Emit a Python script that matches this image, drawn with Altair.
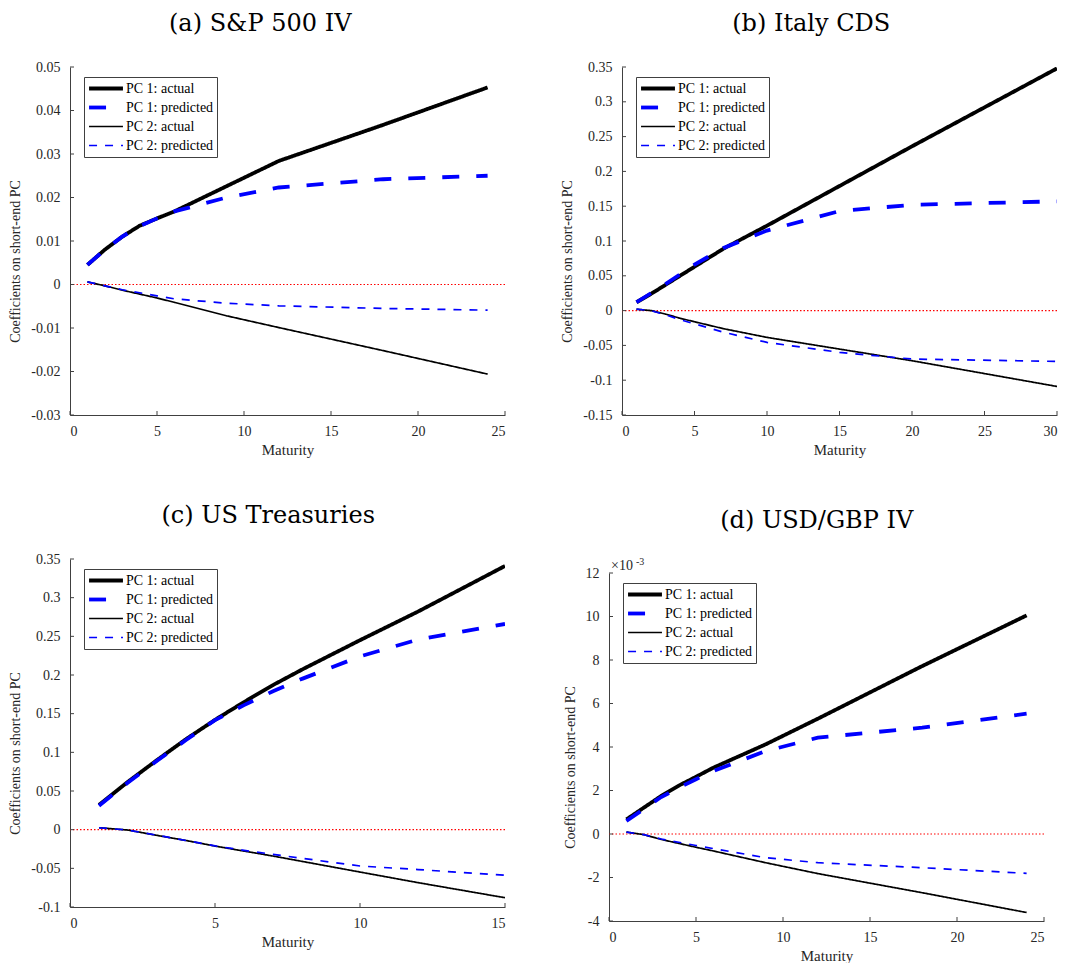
import altair as alt
import pandas as pd

FONT = "Liberation Serif"
TITLE_FONT = "DejaVu Serif"
SERIES = ["PC 1: actual", "PC 1: predicted", "PC 2: actual", "PC 2: predicted"]
COLORS = ["#000000", "#0000ff", "#000000", "#0000ff"]
WIDTHS = [3.8, 3.8, 1.7, 1.7]
DASHES = [[1, 0], [17, 17], [1, 0], [8, 8]]

# (a) S&P 500 IV
a_mat = [1, 2, 3, 4, 5, 6, 9, 12, 18, 24]
a_pc1_act = [0.0045, 0.0080, 0.0110, 0.0135, 0.0152, 0.0168, 0.0226, 0.0284, 0.0367, 0.0453]
a_pc1_pred = [0.0045, 0.0080, 0.0110, 0.0134, 0.0152, 0.0168, 0.0200, 0.0223, 0.0242, 0.0250]
a_pc2_act = [0.0006, -0.0003, -0.0013, -0.0022, -0.0031, -0.0041, -0.0072, -0.0099, -0.0152, -0.0206]
a_pc2_pred = [0.0006, -0.0003, -0.0012, -0.0019, -0.0026, -0.0033, -0.0043, -0.0049, -0.0055, -0.0059]
a_xticks = [0, 5, 10, 15, 20, 25]
a_yticks = [-0.03, -0.02, -0.01, 0, 0.01, 0.02, 0.03, 0.04, 0.05]

# (b) Italy CDS
b_mat = [1, 2, 3, 4, 5, 7, 10, 15, 20, 30]
b_pc1_act = [0.012, 0.024, 0.037, 0.050, 0.063, 0.089, 0.122, 0.179, 0.236, 0.348]
b_pc1_pred = [0.012, 0.025, 0.038, 0.052, 0.066, 0.090, 0.115, 0.143, 0.152, 0.157]
b_pc2_act = [0.002, 0.000, -0.005, -0.011, -0.016, -0.026, -0.0385, -0.0553, -0.072, -0.109]
b_pc2_pred = [0.002, 0.000, -0.006, -0.013, -0.019, -0.031, -0.0457, -0.060, -0.0696, -0.073]
b_xticks = [0, 5, 10, 15, 20, 25, 30]
b_yticks = [-0.15, -0.1, -0.05, 0, 0.05, 0.1, 0.15, 0.2, 0.25, 0.3, 0.35]

# (c) US Treasuries
c_mat = [1, 2, 3, 4, 5, 6, 7, 8, 10, 12, 15]
c_pc1_act = [0.032, 0.062, 0.090, 0.117, 0.142, 0.165, 0.187, 0.207, 0.245, 0.282, 0.341]
c_pc1_pred = [0.031, 0.061, 0.089, 0.116, 0.1416, 0.161, 0.179, 0.195, 0.224, 0.2458, 0.266]
c_pc2_act = [0.0025, -0.0005, -0.0074, -0.014, -0.0212, -0.0277, -0.0341, -0.041, -0.0548, -0.0685, -0.088]
c_pc2_pred = [0.0025, -0.0005, -0.0072, -0.014, -0.021, -0.0267, -0.032, -0.037, -0.047, -0.0516, -0.059]
c_xticks = [0, 5, 10, 15]
c_yticks = [-0.1, -0.05, 0, 0.05, 0.1, 0.15, 0.2, 0.25, 0.3, 0.35]

# (d) USD/GBP IV  (values in units of 10^-3)
d_mat = [1, 2, 3, 4, 5, 6, 9, 12, 18, 24]
d_pc1_act = [0.67, 1.21, 1.75, 2.22, 2.63, 3.05, 4.12, 5.30, 7.72, 10.05]
d_pc1_pred = [0.60, 1.15, 1.70, 2.12, 2.52, 2.90, 3.81, 4.43, 4.89, 5.53]
d_pc2_act = [0.09, -0.03, -0.25, -0.43, -0.61, -0.78, -1.32, -1.82, -2.70, -3.61]
d_pc2_pred = [0.09, -0.03, -0.23, -0.38, -0.53, -0.67, -1.09, -1.32, -1.55, -1.81]
d_xticks = [0, 5, 10, 15, 20, 25]
d_yticks = [-4, -2, 0, 2, 4, 6, 8, 10, 12]

W = 435
H = 348
AXIS_COLOR = "#404040"
LABEL_COLOR = "#262626"


def panel(title, mat, series_vals, xticks, yticks, title_dx=0, exponent=False):
    rows = []
    for s, vals in zip(SERIES, series_vals):
        for m, v in zip(mat, vals):
            rows.append({"Maturity": m, "value": v, "series": s})
    df = pd.DataFrame(rows)

    top = 14 if exponent else 0
    h = H + top

    leg = alt.Legend(
        title=None, orient="none", legendX=14, legendY=10 + top,
        symbolType="stroke", symbolSize=1150, labelFont=FONT,
        labelFontSize=14, labelColor="black", strokeColor=AXIS_COLOR,
        fillColor="white", padding=3, rowPadding=2, clipHeight=17,
        labelOffset=1,
    )
    xs = alt.Scale(domain=[xticks[0], xticks[-1]], nice=False, zero=False)
    if exponent:
        ys = alt.Scale(domain=[yticks[0], yticks[-1]], nice=False, zero=False,
                       range=[h, top])
    else:
        ys = alt.Scale(domain=[yticks[0], yticks[-1]], nice=False, zero=False)
    xaxis = alt.Axis(values=xticks, title="Maturity",
                     labelExpr="'' + datum.value", ticks=False,
                     tickSize=0, grid=False, labelPadding=9, titlePadding=4)
    yaxis = alt.Axis(values=yticks, title="Coefficients on short-end PC",
                     labelExpr="'' + datum.value", ticks=False,
                     tickSize=0, grid=False, labelPadding=10, titlePadding=8,
                     titleFontSize=14, titleY=top + H / 2 + 20)

    def X():
        return alt.X("Maturity:Q", scale=xs, axis=xaxis)

    def Y():
        return alt.Y("value:Q", scale=ys, axis=yaxis)

    lines = alt.Chart(df).mark_line(clip=True, strokeCap="butt").encode(
        x=X(), y=Y(),
        color=alt.Color("series:N", scale=alt.Scale(domain=SERIES, range=COLORS), legend=leg),
        strokeDash=alt.StrokeDash("series:N", scale=alt.Scale(domain=SERIES, range=DASHES), legend=leg),
        strokeWidth=alt.StrokeWidth("series:N", scale=alt.Scale(type="ordinal", domain=SERIES, range=WIDTHS), legend=leg),
        order=alt.Order("Maturity:Q"),
    )

    zero = alt.Chart(pd.DataFrame({"value": [0]})).mark_rule(
        color="#ff0000", strokeDash=[1.5, 2], strokeWidth=1.2
    ).encode(y=Y())

    xt = alt.Chart(pd.DataFrame({"Maturity": xticks})).mark_rule(
        color=AXIS_COLOR, strokeWidth=1
    ).encode(x=X(), y=alt.value(h), y2=alt.value(h - 4))

    yt = alt.Chart(pd.DataFrame({"value": yticks})).mark_rule(
        color=AXIS_COLOR, strokeWidth=1
    ).encode(y=Y(), x=alt.value(0), x2=alt.value(4))

    layers = [zero, lines, xt, yt]
    if exponent:
        e1 = alt.Chart(pd.DataFrame({"s": ["\u00d710"]})).mark_text(
            font=FONT, fontSize=14, align="left", baseline="bottom", color=LABEL_COLOR
        ).encode(text="s:N", x=alt.value(2), y=alt.value(top))
        e2 = alt.Chart(pd.DataFrame({"s": ["-3"]})).mark_text(
            font=FONT, fontSize=10, align="left", baseline="bottom", color=LABEL_COLOR
        ).encode(text="s:N", x=alt.value(27), y=alt.value(top - 6))
        layers += [e1, e2]

    return alt.layer(*layers).properties(
        width=W, height=h,
        title=alt.TitleParams(title, font=TITLE_FONT, fontSize=24, fontWeight="normal",
                              color="black", offset=24, anchor="middle", frame="bounds",
                              dx=title_dx),
    )


pa = panel("(a) S&P 500 IV", a_mat, [a_pc1_act, a_pc1_pred, a_pc2_act, a_pc2_pred], a_xticks, a_yticks, title_dx=3)
pb = panel("(b) Italy CDS", b_mat, [b_pc1_act, b_pc1_pred, b_pc2_act, b_pc2_pred], b_xticks, b_yticks, title_dx=2)
pc = panel("(c) US Treasuries", c_mat, [c_pc1_act, c_pc1_pred, c_pc2_act, c_pc2_pred], c_xticks, c_yticks, title_dx=11)
pd_ = panel("(d) USD/GBP IV", d_mat, [d_pc1_act, d_pc1_pred, d_pc2_act, d_pc2_pred], d_xticks, d_yticks, title_dx=13, exponent=True)

ind = dict(color="independent", strokeDash="independent", strokeWidth="independent")

row1 = alt.hconcat(pa, pb, spacing=54).resolve_scale(**ind).resolve_legend(**ind)
row2 = alt.hconcat(pc, pd_, spacing=57).resolve_scale(**ind).resolve_legend(**ind)

chart = alt.vconcat(row1, row2, spacing=47).resolve_scale(**ind).resolve_legend(**ind).properties(
    padding={"left": 8, "top": 12, "right": 0, "bottom": 0},
    background="white",
).configure_view(strokeWidth=0).configure_axis(
    labelFont=FONT, titleFont=FONT, labelFontSize=14, titleFontSize=15,
    labelColor=LABEL_COLOR, titleColor=LABEL_COLOR, titleFontWeight="normal",
    domainColor=AXIS_COLOR, domainWidth=1,
)

chart.save("out.html", embed_options={"renderer": "svg", "actions": False})
